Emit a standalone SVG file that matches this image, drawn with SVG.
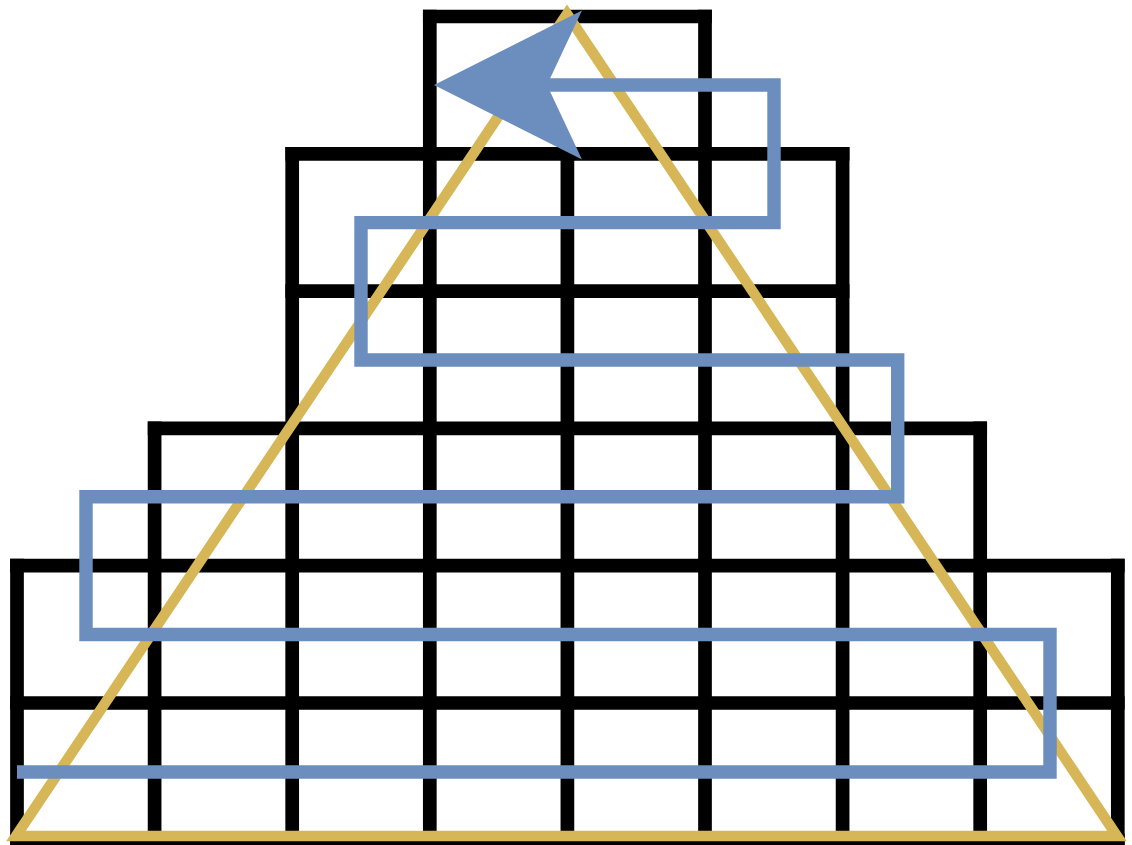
<svg xmlns="http://www.w3.org/2000/svg" width="1132" height="845" viewBox="0 0 1132 845">
  <defs>
    <style>
      .grid { fill: none; stroke: #000000; stroke-width: 13.7; stroke-linecap: square; }
      .tri { fill: none; stroke: #D6B656; stroke-width: 10.5; stroke-linejoin: miter; }
      .flow { fill: none; stroke: #6C8EBF; stroke-width: 13.4; stroke-linejoin: miter; stroke-linecap: butt; }
    </style>
    <marker id="arrow" markerUnits="userSpaceOnUse" viewBox="-40 -80 160 160" markerWidth="160" markerHeight="160" refX="0" refY="0" orient="auto" overflow="visible">
      <path d="M-35 -74.5 L113 0 L-35 74.5 L0 0 Z" fill="#6C8EBF"/>
    </marker>
  </defs>
  <rect x="0" y="0" width="1132" height="845" fill="#ffffff"/>
  <g id="grid" class="grid">
    <path d="M429.8 16.5 H705 M292.2 153.8 H842.6 M292.2 291.1 H842.6 M154.6 428.4 H980.2 M17 565.7 H1117.8 M17 703 H1117.8 M17 840.3 H1117.8"/>
    <path d="M17 565.7 V840.3 M1117.8 565.7 V840.3 M154.6 428.4 V840.3 M980.2 428.4 V840.3 M292.2 153.8 V840.3 M842.6 153.8 V840.3 M429.8 16.5 V840.3 M705 16.5 V840.3 M567.4 153.8 V840.3"/>
  </g>
  <g id="triangle">
    <polygon class="tri" points="16,836 567,14 1117,836"/>
  </g>
  <g id="connectors">
    <path class="flow" d="M17 772 H1050 V634.5 H86 V496.7 H897.7 V360 H361 V222.6 H774 V85 H547" marker-end="url(#arrow)"/>
  </g>
</svg>
